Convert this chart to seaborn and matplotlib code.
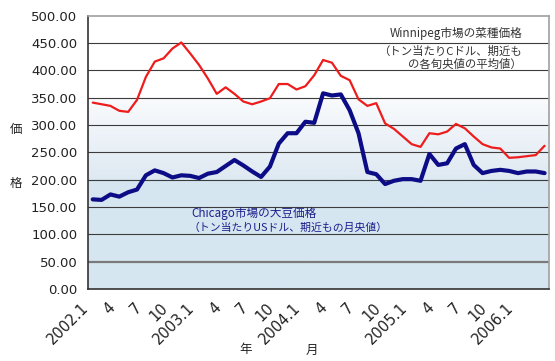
import numpy as np
import pandas as pd
import matplotlib
matplotlib.use("Agg")
import matplotlib.pyplot as plt
import matplotlib.transforms as mtransforms
from matplotlib.colors import LinearSegmentedColormap
import seaborn as sns

# 菜種（Winnipeg）と大豆（Chicago）の月次価格 2002.1〜2006.4
rapeseed = [341, 338, 335, 326, 324, 346, 388, 416, 422, 440, 451, 431,
            410, 385, 357, 369, 357, 343, 338, 343, 349, 375, 375, 365,
            371, 391, 419, 414, 390, 382, 347, 335, 340, 303, 293, 279,
            265, 260, 285, 283, 288, 302, 294, 279, 265, 259, 257, 240,
            241, 243, 245, 262]
soybean = [164, 163, 173, 169, 177, 182, 208, 217, 212, 204, 208, 207,
           203, 211, 214, 225, 236, 226, 215, 205, 224, 266, 285, 285,
           306, 304, 358, 354, 356, 327, 285, 214, 210, 192, 198, 201,
           201, 198, 247, 227, 230, 257, 265, 227, 212, 216, 218, 216,
           212, 215, 215, 212]
tick_labels = ["2002.1", "4", "7", "10", "2003.1", "4", "7", "10",
               "2004.1", "4", "7", "10", "2005.1", "4", "7", "10", "2006.1"]
y_ticks = [0, 50, 100, 150, 200, 250, 300, 350, 400, 450, 500]

df = pd.DataFrame({"idx": np.arange(len(rapeseed)),
                   "rapeseed": rapeseed, "soybean": soybean})

sns.set_theme(style="white")
plt.rcParams['font.family'] = ['DejaVu Sans', 'Noto Sans CJK JP']
jp = ['Noto Sans CJK JP', 'DejaVu Sans']

W, H = 555, 361
fig = plt.figure(figsize=(W / 100, H / 100), dpi=100)
ax = fig.add_axes([88.3 / W, 1 - 289 / H, (549 - 88.3) / W, (289 - 15.7) / H])

# 背景のグラデーション（下: 薄い青、上: 白）
cmap = LinearSegmentedColormap.from_list(
    "bg", [(0.0, "#d6e6f1"), (0.40, "#d6e6f1"), (0.401, "#dfe9f2"),
           (0.70, "#f9fbfd"), (0.701, "#ffffff"), (1.0, "#ffffff")])
grad = np.linspace(0, 1, 400).reshape(-1, 1)
ax.imshow(grad, extent=[0, 1, 0, 1], transform=ax.transAxes, origin="lower",
          cmap=cmap, aspect="auto", zorder=0)

for v in y_ticks[1:-1]:
    if v == 50:
        ax.axhline(v, color="#7a7a7a", lw=1.6, zorder=1)
    else:
        ax.axhline(v, color="#3c3c3c", lw=0.8, zorder=1)

sns.lineplot(data=df, x="idx", y="rapeseed", color="#ee1c1c", lw=1.6, ax=ax, zorder=3)
sns.lineplot(data=df, x="idx", y="soybean", color="#0c0c86", lw=3.0, ax=ax, zorder=3)

n = len(rapeseed)
ax.set_xlim(-0.5, n - 0.5)
ax.set_ylim(0, 500)
ax.set_yticks(y_ticks)
ax.set_yticklabels([f"{v:.2f}" for v in y_ticks], fontsize=9.5, color="#222222")
ax.tick_params(axis="y", length=0, pad=8)

# 目盛り: 各月の境界に短い内向きの目盛り
ax.set_xticks(np.arange(-0.5, n, 1.0))
ax.set_xticklabels([])
ax.tick_params(axis="x", which="major", direction="in", length=2.5, color="#333333")
ax.set_xticks(np.arange(0, 3 * len(tick_labels), 3), minor=True)
ax.set_xticklabels(tick_labels, minor=True, fontsize=10.5, color="#222222")
ax.tick_params(axis="x", which="minor", length=0, pad=12)
offset = mtransforms.ScaledTranslation(-7 / 100, 0, fig.dpi_scale_trans)
for lab in ax.get_xticklabels(minor=True):
    lab.set_rotation(45)
    lab.set_ha("right")
    lab.set_va("center")
    lab.set_rotation_mode("anchor")
    lab.set_transform(lab.get_transform() + offset)

ax.set_xlabel("")
ax.set_ylabel("")
for side in ["left", "bottom"]:
    ax.spines[side].set_color("#333333")
    ax.spines[side].set_linewidth(1.2)
for side in ["top", "right"]:
    ax.spines[side].set_color("#a0a0a0")
    ax.spines[side].set_linewidth(1.2)

# 注記
fig.text(522 / W, 1 - 34 / H, "Winnipeg市場の菜種価格", ha="right", va="center",
         fontsize=8.4, color="#333333", family=jp)
fig.text(522 / W, 1 - 51.5 / H, "（トン当たりCドル、期近も", ha="right", va="center",
         fontsize=8.2, color="#333333", family=jp)
fig.text(522 / W, 1 - 64 / H, "の各旬央値の平均値）", ha="right", va="center",
         fontsize=8.2, color="#333333", family=jp)
fig.text(191 / W, 1 - 213 / H, "Chicago市場の大豆価格", ha="left", va="center",
         fontsize=8.4, color="#1e1e8c", family=jp)
fig.text(189 / W, 1 - 228 / H, "（トン当たりUSドル、期近もの月央値）", ha="left", va="center",
         fontsize=7.8, color="#1e1e8c", family=jp)

fig.text(16 / W, 1 - 130 / H, "価", ha="center", va="center", fontsize=9, color="#222222", family=jp)
fig.text(16 / W, 1 - 183 / H, "格", ha="center", va="center", fontsize=9, color="#222222", family=jp)
fig.text(246 / W, 1 - 350 / H, "年", ha="center", va="center", fontsize=9, color="#222222", family=jp)
fig.text(312 / W, 1 - 350 / H, "月", ha="center", va="center", fontsize=9, color="#222222", family=jp)

fig.savefig("out.png", dpi=100, facecolor="white")
